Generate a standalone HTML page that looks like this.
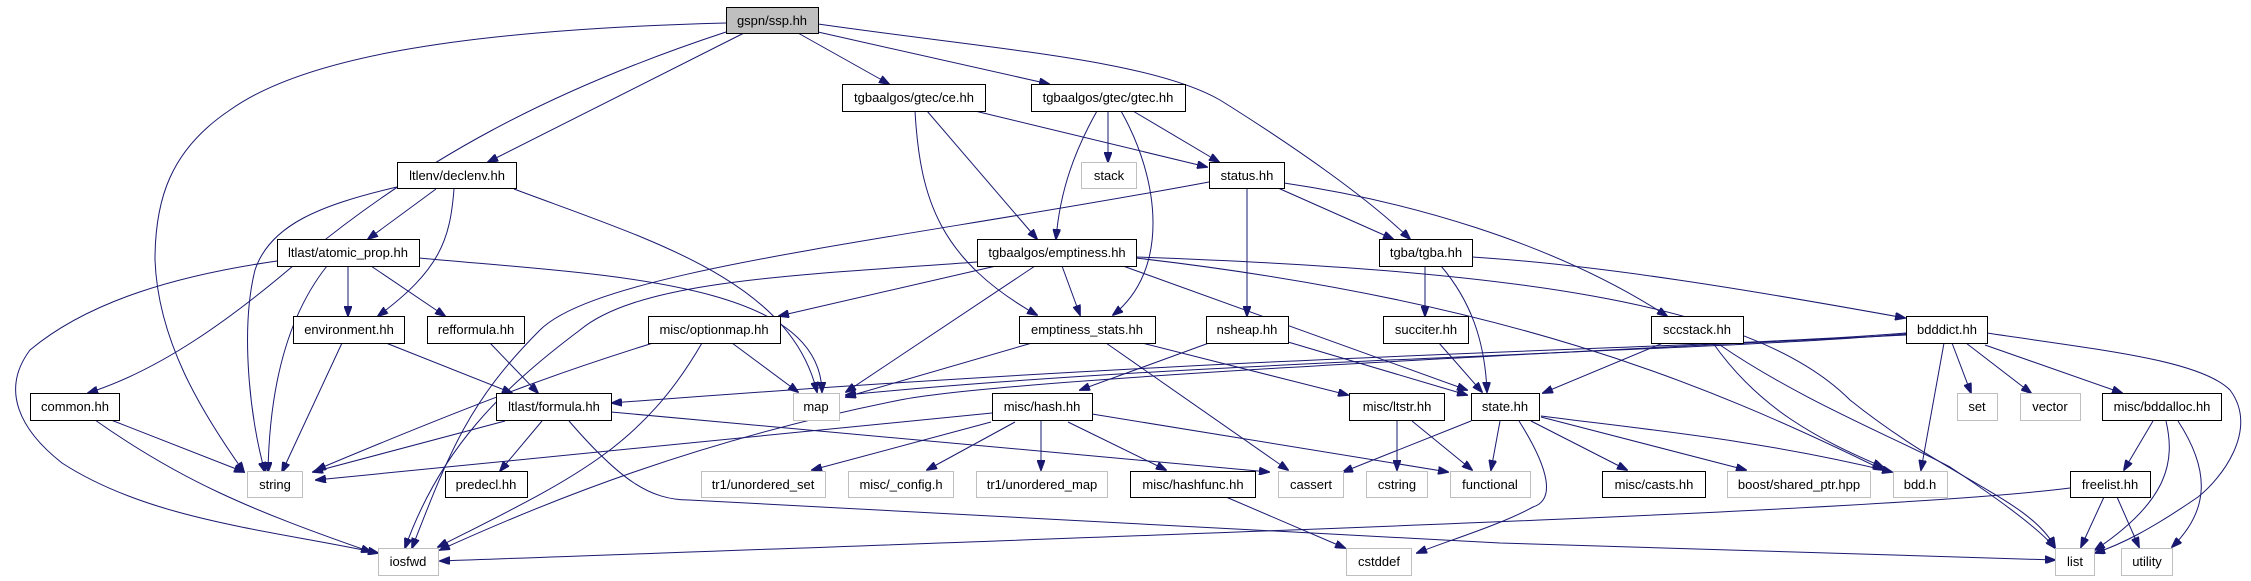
<!DOCTYPE html>
<html><head><meta charset="utf-8"><style>
html,body{margin:0;padding:0;background:#fff;}
svg{display:block;}
text{font-family:"Liberation Sans",Arial,sans-serif;font-size:13px;text-anchor:middle;fill:#000;}
.e{fill:none;stroke:#191970;stroke-width:1;marker-end:url(#a);}
.n{fill:#fff;stroke:#000;stroke-width:1;}
.g{fill:#fff;stroke:#bfbfbf;stroke-width:1;}
.r{fill:#bfbfbf;stroke:#000;stroke-width:1;}
</style></head><body>
<svg width="2251" height="581" viewBox="0 0 2251 581" xmlns="http://www.w3.org/2000/svg">
<defs><marker id="a" markerUnits="userSpaceOnUse" markerWidth="11" markerHeight="8" refX="10" refY="4" orient="auto"><path d="M0,0 L11,4 L0,8 z" fill="#191970" stroke="#191970"/></marker></defs>

<!-- edges -->
<path class="e" d="M726,23 C450,30 300,60 230,110 C170,150 155,200 155,260 C158,340 200,410 244,472"/>
<path class="e" d="M726,32 C550,90 420,160 300,260 C230,320 160,370 88,393"/>
<path class="e" d="M744,33 L488,162"/>
<path class="e" d="M798,33 L889,84"/>
<path class="e" d="M818,32 L1049,84"/>
<path class="e" d="M818,24 C1000,50 1150,60 1220,100 C1300,150 1370,200 1410,239"/>

<path class="e" d="M397,187 C320,205 270,225 255,270 C240,330 250,420 265,472"/>
<path class="e" d="M436,189 L368,239"/>
<path class="e" d="M454,189 C450,240 440,270 378,316"/>
<path class="e" d="M514,189 C650,240 790,280 817,392"/>

<path class="e" d="M277,261 C180,275 90,300 30,350 C0,390 20,430 62,463 C150,520 270,530 378,553"/>
<path class="e" d="M327,266 C300,300 270,360 268,472"/>
<path class="e" d="M348,266 L348,316"/>
<path class="e" d="M371,266 L445,316"/>
<path class="e" d="M419,258 C600,275 820,280 822,392"/>

<path class="e" d="M386,343 L512,393"/>
<path class="e" d="M490,343 L538,393"/>
<path class="e" d="M342,343 L282,472"/>
<path class="e" d="M111,420 L244,472"/>
<path class="e" d="M95,420 C180,480 250,510 371,552"/>

<path class="e" d="M505,421 L313,472"/>
<path class="e" d="M542,421 L500,471"/>
<path class="e" d="M611,412 L1269,472"/>
<path class="e" d="M569,421 C620,480 650,500 689,500 L1500,543 L2055,560"/>

<path class="e" d="M653,343 C600,360 530,380 316,470"/>
<path class="e" d="M702,343 C640,450 570,480 438,547"/>
<path class="e" d="M732,343 L798,392"/>

<path class="e" d="M996,266 L779,316"/>
<path class="e" d="M1209,182 C900,240 600,270 540,330 C470,400 450,450 412,548"/>
<path class="e" d="M977,262 C800,275 640,280 580,330 C500,390 440,450 405,548"/>
<path class="e" d="M1035,266 L846,392"/>
<path class="e" d="M1062,266 L1080,315"/>
<path class="e" d="M1123,266 L1467,390"/>
<path class="e" d="M1136,258 C1500,300 1700,380 1883,470"/>
<path class="e" d="M1136,257 C1500,270 1750,300 1850,400 C1950,480 2030,500 2055,547"/>

<path class="e" d="M927,111 L1037,239"/>
<path class="e" d="M915,111 C920,200 940,260 1037,315"/>
<path class="e" d="M975,111 L1207,167"/>
<path class="e" d="M1097,111 C1075,150 1060,190 1056,239"/>
<path class="e" d="M1108,111 L1108,162"/>
<path class="e" d="M1121,111 C1160,180 1170,270 1113,315"/>
<path class="e" d="M1133,111 L1219,162"/>

<path class="e" d="M1247,188 L1247,316"/>
<path class="e" d="M1278,188 L1393,239"/>
<path class="e" d="M1284,183 C1400,200 1550,240 1667,316"/>

<path class="e" d="M1425,266 L1425,316"/>
<path class="e" d="M1441,266 C1470,300 1485,340 1487,392"/>
<path class="e" d="M1472,257 C1600,265 1750,290 1905,318"/>

<path class="e" d="M1032,343 L846,397"/>
<path class="e" d="M1106,343 L1288,470"/>
<path class="e" d="M1142,343 L1348,395"/>
<path class="e" d="M1209,343 L1080,390"/>
<path class="e" d="M1288,342 L1467,395"/>
<path class="e" d="M1439,343 L1482,392"/>

<path class="e" d="M992,413 L316,480"/>
<path class="e" d="M991,422 L812,470"/>
<path class="e" d="M1015,422 L927,470"/>
<path class="e" d="M1041,420 L1041,470"/>
<path class="e" d="M1068,422 L1166,470"/>
<path class="e" d="M1092,414 L1448,472"/>
<path class="e" d="M1397,421 L1397,470"/>
<path class="e" d="M1412,421 L1472,470"/>
<path class="e" d="M1226,497 L1345,548"/>

<path class="e" d="M1471,421 L1343,472"/>
<path class="e" d="M1500,421 L1491,470"/>
<path class="e" d="M1519,421 C1550,470 1555,500 1533,507 C1500,525 1450,540 1417,553"/>
<path class="e" d="M1531,421 L1627,470"/>
<path class="e" d="M1541,417 L1746,470"/>
<path class="e" d="M1541,416 C1650,430 1760,440 1892,472"/>

<path class="e" d="M1663,343 L1543,393"/>
<path class="e" d="M1713,343 C1760,410 1820,440 1883,467"/>
<path class="e" d="M1720,345 C1800,400 1900,440 1950,467 C2000,500 2040,530 2055,548"/>

<path class="e" d="M1906,333 C1700,350 1300,350 612,403"/>
<path class="e" d="M1906,334 C1700,352 1200,360 846,395"/>
<path class="e" d="M1906,335 C1500,355 1000,380 900,400 C700,440 550,500 440,550"/>
<path class="e" d="M1952,343 L1971,393"/>
<path class="e" d="M1966,343 L2031,393"/>
<path class="e" d="M1985,345 L2122,393"/>
<path class="e" d="M1944,343 L1921,470"/>
<path class="e" d="M1987,333 C2100,350 2200,360 2230,390 C2260,430 2220,480 2198,497 C2150,530 2120,545 2095,553"/>

<path class="e" d="M2153,421 L2124,470"/>
<path class="e" d="M2166,421 C2175,460 2170,500 2095,550"/>
<path class="e" d="M2178,421 C2210,470 2210,510 2172,547"/>
<path class="e" d="M2104,497 L2081,547"/>
<path class="e" d="M2117,497 L2139,547"/>
<path class="e" d="M2070,488 C1900,510 1300,530 440,561"/>

<!-- nodes -->
<rect class="r" x="726.5" y="7.5" width="92" height="26"/><text x="772" y="25">gspn/ssp.hh</text>
<rect class="n" x="397.5" y="162.5" width="119" height="26"/><text x="457" y="180">ltlenv/declenv.hh</text>
<rect class="n" x="277.5" y="239.5" width="142" height="27"/><text x="348" y="257">ltlast/atomic_prop.hh</text>
<rect class="n" x="842.5" y="84.5" width="143" height="27"/><text x="914" y="102">tgbaalgos/gtec/ce.hh</text>
<rect class="n" x="1031.5" y="84.5" width="154" height="27"/><text x="1108" y="102">tgbaalgos/gtec/gtec.hh</text>
<rect class="g" x="1081.5" y="162.5" width="55" height="26"/><text x="1109" y="180">stack</text>
<rect class="n" x="1209.5" y="162.5" width="75" height="26"/><text x="1247" y="180">status.hh</text>
<rect class="n" x="977.5" y="239.5" width="159" height="27"/><text x="1057" y="257">tgbaalgos/emptiness.hh</text>
<rect class="n" x="1379.5" y="239.5" width="93" height="27"/><text x="1426" y="257">tgba/tgba.hh</text>
<rect class="n" x="293.5" y="316.5" width="111" height="27"/><text x="349" y="334">environment.hh</text>
<rect class="n" x="427.5" y="316.5" width="97" height="27"/><text x="476" y="334">refformula.hh</text>
<rect class="n" x="648.5" y="316.5" width="132" height="27"/><text x="714" y="334">misc/optionmap.hh</text>
<rect class="n" x="1019.5" y="316.5" width="136" height="27"/><text x="1087" y="334">emptiness_stats.hh</text>
<rect class="n" x="1206.5" y="316.5" width="82" height="27"/><text x="1247" y="334">nsheap.hh</text>
<rect class="n" x="1383.5" y="316.5" width="85" height="27"/><text x="1426" y="334">succiter.hh</text>
<rect class="n" x="1651.5" y="316.5" width="92" height="27"/><text x="1697" y="334">sccstack.hh</text>
<rect class="n" x="1906.5" y="316.5" width="81" height="27"/><text x="1947" y="334">bdddict.hh</text>
<rect class="n" x="30.5" y="393.5" width="89" height="27"/><text x="75" y="411">common.hh</text>
<rect class="n" x="496.5" y="393.5" width="115" height="27"/><text x="554" y="411">ltlast/formula.hh</text>
<rect class="g" x="793.5" y="393.5" width="46" height="27"/><text x="816" y="411">map</text>
<rect class="n" x="992.5" y="393.5" width="100" height="27"/><text x="1042" y="411">misc/hash.hh</text>
<rect class="n" x="1349.5" y="393.5" width="95" height="27"/><text x="1397" y="411">misc/ltstr.hh</text>
<rect class="n" x="1471.5" y="393.5" width="68" height="27"/><text x="1505" y="411">state.hh</text>
<rect class="g" x="1957.5" y="393.5" width="40" height="27"/><text x="1977" y="411">set</text>
<rect class="g" x="2020.5" y="393.5" width="60" height="27"/><text x="2050" y="411">vector</text>
<rect class="n" x="2102.5" y="393.5" width="119" height="27"/><text x="2162" y="411">misc/bddalloc.hh</text>
<rect class="g" x="247.5" y="471.5" width="55" height="26"/><text x="275" y="489">string</text>
<rect class="n" x="445.5" y="471.5" width="82" height="26"/><text x="486" y="489">predecl.hh</text>
<rect class="g" x="701.5" y="471.5" width="124" height="26"/><text x="763" y="489">tr1/unordered_set</text>
<rect class="g" x="848.5" y="471.5" width="105" height="26"/><text x="901" y="489">misc/_config.h</text>
<rect class="g" x="976.5" y="471.5" width="131" height="26"/><text x="1042" y="489">tr1/unordered_map</text>
<rect class="n" x="1130.5" y="471.5" width="125" height="26"/><text x="1193" y="489">misc/hashfunc.hh</text>
<rect class="g" x="1278.5" y="471.5" width="65" height="26"/><text x="1311" y="489">cassert</text>
<rect class="g" x="1366.5" y="471.5" width="61" height="26"/><text x="1397" y="489">cstring</text>
<rect class="g" x="1450.5" y="471.5" width="80" height="26"/><text x="1490" y="489">functional</text>
<rect class="n" x="1602.5" y="471.5" width="103" height="26"/><text x="1654" y="489">misc/casts.hh</text>
<rect class="g" x="1727.5" y="471.5" width="143" height="26"/><text x="1799" y="489">boost/shared_ptr.hpp</text>
<rect class="g" x="1893.5" y="471.5" width="54" height="26"/><text x="1920" y="489">bdd.h</text>
<rect class="n" x="2070.5" y="471.5" width="80" height="26"/><text x="2110" y="489">freelist.hh</text>
<rect class="g" x="378.5" y="548.5" width="60" height="27"/><text x="408" y="566">iosfwd</text>
<rect class="g" x="1346.5" y="548.5" width="65" height="27"/><text x="1379" y="566">cstddef</text>
<rect class="g" x="2055.5" y="548.5" width="39" height="27"/><text x="2075" y="566">list</text>
<rect class="g" x="2121.5" y="548.5" width="51" height="27"/><text x="2147" y="566">utility</text>
</svg>
</body></html>
